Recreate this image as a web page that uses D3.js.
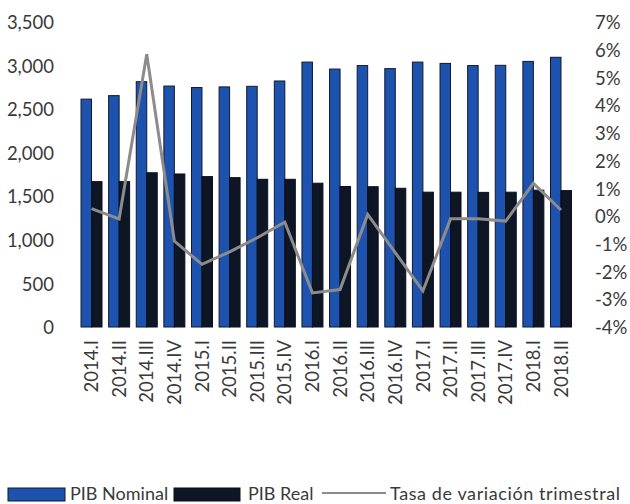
<!DOCTYPE html>
<html>
<head>
<meta charset="utf-8">
<script src="https://cdn.jsdelivr.net/npm/d3@7"></script>
<style>
  html, body { margin: 0; padding: 0; background: #ffffff; }
  svg { display: block; }
  text { font-family: Lato, "Open Sans", sans-serif; fill: #3a3a3a; }
</style>
</head>
<body>
<svg id="chart" width="630" height="504"></svg>
<script>
const categories = ["2014.I","2014.II","2014.III","2014.IV","2015.I","2015.II","2015.III","2015.IV",
  "2016.I","2016.II","2016.III","2016.IV","2017.I","2017.II","2017.III","2017.IV","2018.I","2018.II"];
const pibNominal = [2615, 2655, 2815, 2765, 2748, 2755, 2762, 2823, 3040, 2960, 3000, 2965, 3040, 3025, 3000, 3003, 3048, 3095];
const pibReal    = [1668, 1668, 1770, 1756, 1726, 1714, 1695, 1695, 1650, 1612, 1610, 1592, 1547, 1547, 1545, 1547, 1570, 1565];
const tasa       = [0.27, -0.10, 5.84, -0.90, -1.74, -1.29, -0.78, -0.22, -2.77, -2.65, 0.06, -1.32, -2.70, -0.10, -0.10, -0.18, 1.18, 0.22];
const leftTicks  = [0, 500, 1000, 1500, 2000, 2500, 3000, 3500];
const rightTicks = [-4, -3, -2, -1, 0, 1, 2, 3, 4, 5, 6, 7];
const seriesNames = ["PIB Nominal", "PIB Real", "Tasa de variación trimestral"];

const svg = d3.select("#chart");
const plot = { left: 77.7, right: 574.8, top: 22, bottom: 327 };

const x = d3.scaleBand().domain(categories).range([plot.left, plot.right]).paddingInner(0.24).paddingOuter(0.12);
const xSub = d3.scaleBand().domain(["n", "r"]).range([0, x.bandwidth()]);
const yL = d3.scaleLinear().domain([0, 3500]).range([plot.bottom, plot.top]);
const yR = d3.scaleLinear().domain([-4, 7]).range([plot.bottom, plot.top]);

const colNominal = "#1d53ae";
const colReal = "#0e1626";
const colLine = "#8c8c8c";

// Bars
const g = svg.append("g");
g.selectAll("rect.nom").data(categories).join("rect")
  .attr("class", "nom")
  .attr("x", (d) => x(d) + xSub("n"))
  .attr("width", xSub.bandwidth())
  .attr("y", (d, i) => yL(pibNominal[i]))
  .attr("height", (d, i) => yL(0) - yL(pibNominal[i]))
  .attr("fill", colNominal).attr("stroke", "#111a2a").attr("stroke-width", 1);
g.selectAll("rect.real").data(categories).join("rect")
  .attr("class", "real")
  .attr("x", (d) => x(d) + xSub("r"))
  .attr("width", xSub.bandwidth())
  .attr("y", (d, i) => yL(pibReal[i]))
  .attr("height", (d, i) => yL(0) - yL(pibReal[i]))
  .attr("fill", colReal).attr("stroke", "#0a0f1a").attr("stroke-width", 1);

// Line
const line = d3.line().x((d, i) => x(categories[i]) + x.bandwidth() / 2).y((d) => yR(d));
svg.append("path").datum(tasa).attr("d", line)
  .attr("fill", "none").attr("stroke", colLine).attr("stroke-width", 3).attr("stroke-linejoin", "miter");

// Left axis
const axL = d3.axisLeft(yL).tickValues(leftTicks).tickFormat(d3.format(",")).tickSize(0).tickPadding(0);
const gL = svg.append("g").attr("transform", "translate(54,0)").call(axL);
gL.select(".domain").remove();
gL.selectAll("text").style("font-size", "18.5px").attr("fill", "#3a3a3a").attr("dy", "0.36em");

// Right axis
const axR = d3.axisRight(yR).tickValues(rightTicks).tickFormat((d) => d + "%").tickSize(0).tickPadding(0);
const gR = svg.append("g").attr("transform", "translate(595,0)").call(axR);
gR.select(".domain").remove();
gR.selectAll("text").style("font-size", "18.5px").attr("fill", "#3a3a3a").attr("dy", "0.36em");

// X axis labels
const axX = d3.axisBottom(x).tickSize(0).tickPadding(0);
const gX = svg.append("g").attr("transform", `translate(0,${plot.bottom})`).call(axX);
gX.select(".domain").remove();
gX.selectAll("text")
  .style("font-size", "18.5px").attr("fill", "#3a3a3a")
  .attr("text-anchor", "end")
  .attr("transform", "translate(0,13) rotate(-90)")
  .attr("x", 0).attr("y", 0).attr("dy", "0.36em");

// Legend
const leg = svg.append("g");
leg.append("rect").attr("x", 8).attr("y", 488).attr("width", 57).attr("height", 13)
  .attr("fill", colNominal).attr("stroke", "#111a2a");
leg.append("text").attr("x", 70).attr("y", 500).style("font-size", "18px").text(seriesNames[0]);
leg.append("rect").attr("x", 174).attr("y", 488).attr("width", 66).attr("height", 13)
  .attr("fill", colReal).attr("stroke", "#0a0f1a");
leg.append("text").attr("x", 248).attr("y", 500).style("font-size", "18px").text(seriesNames[1]);
leg.append("line").attr("x1", 322).attr("x2", 386).attr("y1", 493).attr("y2", 493)
  .attr("stroke", colLine).attr("stroke-width", 2);
leg.append("text").attr("x", 390).attr("y", 500).style("font-size", "18px")
  .style("letter-spacing", "0.6px").text(seriesNames[2]);
</script>
</body>
</html>
